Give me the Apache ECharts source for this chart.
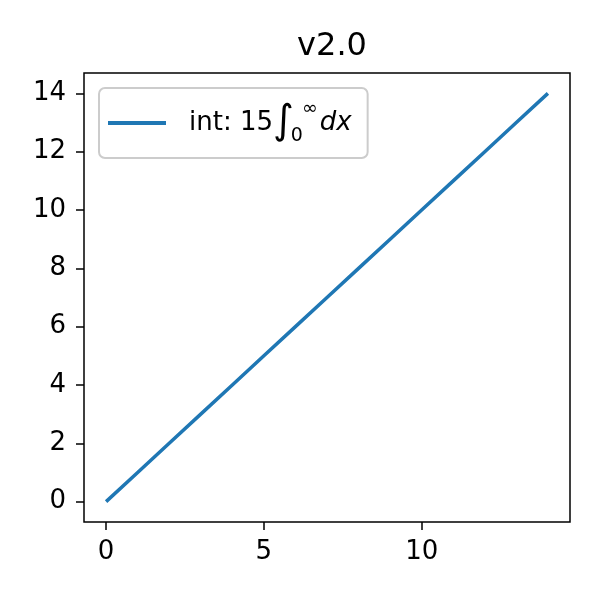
<!DOCTYPE html>
<html>
<head>
<meta charset="utf-8">
<script src="https://cdn.jsdelivr.net/npm/echarts@6/dist/echarts.min.js"></script>
<style>html,body{margin:0;padding:0;background:#fff}#c{width:600px;height:600px}</style>
</head>
<body>
<div id="c"></div>
<script>
var title = 'v2.0';
var seriesName = 'int: 15∫0∞dx';
var xValues = [0,1,2,3,4,5,6,7,8,9,10,11,12,13,14];
var yValues = [0,1,2,3,4,5,6,7,8,9,10,11,12,13,14];
var xTicks = [0,5,10];
var yTicks = [0,2,4,6,8,10,12,14];

var FONT = 'DejaVu Sans';
var chart = echarts.init(document.getElementById('c'), null, {renderer:'canvas'});
var pts = xValues.map(function(x,i){return [x, yValues[i]];});
chart.setOption({
  animation: false,
  backgroundColor: '#fff',
  title: {
    text: title, left: 327, top: 26, textAlign: 'center',
    textStyle: {fontFamily: FONT, fontSize: 32, fontWeight: 'normal', color: '#000'}
  },
  grid: {left: 84, right: 30, top: 73, bottom: 78, show: true, borderColor: '#000', borderWidth: 1.5, containLabel: false},
  legend: {
    left: 99, top: 88, orient: 'vertical',
    padding: [12, 16, 12, 9],
    backgroundColor: '#fff',
    borderColor: '#cccccc', borderWidth: 2, borderRadius: 6,
    itemWidth: 58, itemHeight: 4,
    icon: 'rect',
    data: [{name: seriesName, itemStyle: {color: '#1f77b4'}}],
    formatter: function(){ return '{n|int: 15}{i|∫}{sub|0}{sup|∞}{it|dx}'; },
    textStyle: {
      fontFamily: FONT, fontSize: 26, color: '#000', padding: [0,0,0,18],
      rich: {
        n: {fontFamily: FONT, fontSize: 26, color: '#000', lineHeight: 46, verticalAlign: 'middle'},
        i: {fontFamily: FONT, fontSize: 40, color: '#000', lineHeight: 46, verticalAlign: 'middle'},
        sub: {fontFamily: FONT, fontSize: 19, color: '#000', lineHeight: 19, verticalAlign: 'bottom', padding: [0,0,0,-3]},
        sup: {fontFamily: FONT, fontSize: 19, color: '#000', lineHeight: 19, verticalAlign: 'top', padding: [0,2,0,-1]},
        it: {fontFamily: FONT, fontSize: 26, fontStyle: 'italic', color: '#000', lineHeight: 46, verticalAlign: 'middle'}
      }
    }
  },
  xAxis: {
    type: 'value', min: -0.7, max: 14.7,
    axisLine: {show: false, onZero: false},
    splitLine: {show: false},
    axisTick: {show: true, inside: false, length: 8, lineStyle: {color: '#000', width: 1.5}, customValues: xTicks},
    axisLabel: {customValues: xTicks, fontFamily: FONT, fontSize: 26, color: '#000', margin: 17, showMinLabel: true, showMaxLabel: true}
  },
  yAxis: {
    type: 'value', min: -0.7, max: 14.7,
    axisLine: {show: false, onZero: false},
    splitLine: {show: false},
    axisTick: {show: true, inside: false, length: 8, lineStyle: {color: '#000', width: 1.5}, customValues: yTicks},
    axisLabel: {customValues: yTicks, fontFamily: FONT, fontSize: 26, color: '#000', margin: 18}
  },
  series: [{
    name: seriesName, type: 'line', data: pts, showSymbol: false, symbol: 'none',
    lineStyle: {color: '#1f77b4', width: 3.5}, itemStyle: {color: '#1f77b4'}
  }]
});
</script>
</body>
</html>
